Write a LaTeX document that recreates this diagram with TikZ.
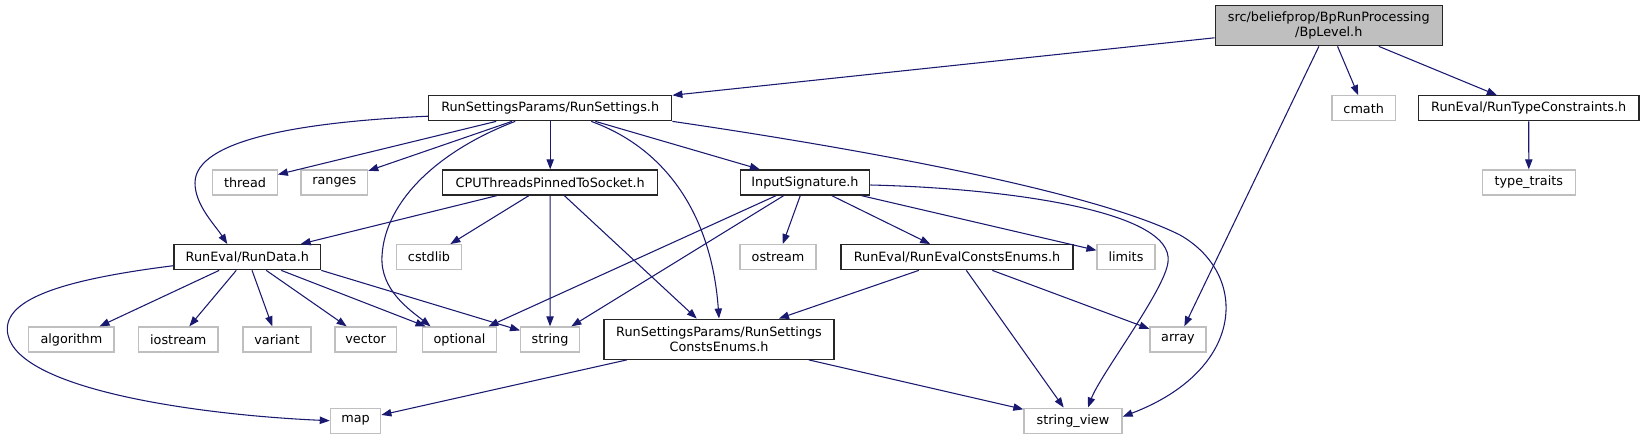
\documentclass[tikz,border=0pt]{standalone}
\usepackage{fontspec}
\setmainfont{DejaVu Sans}
\usetikzlibrary{arrows.meta,calc}
\definecolor{edgeblue}{HTML}{191970}
\definecolor{grey75}{HTML}{BFBFBF}
\tikzset{
  hdr/.style={draw=black!85, line width=1pt, fill=white, inner sep=0pt,
    minimum height=18.75pt, align=center, font=\fontsize{9.6pt}{11.3pt}\selectfont},
  sys/.style={hdr, draw=grey75},
  root/.style={hdr, fill=grey75, minimum height=30pt},
  inc/.style={draw=edgeblue, line width=0.8pt, -{Triangle[length=7.5pt,width=5.5pt]}}
}
\begin{document}
\begin{tikzpicture}[x=0.75pt, y=-0.75pt]
    \useasboundingbox (0,0) rectangle (1644,440);

    % 节点
    \node[root, minimum width=170.3pt] (lvl) at (1328.8,25.7) {src/beliefprop/BpRunProcessing\\/BpLevel.h};
    \node[hdr, minimum width=182.3pt] (rs) at (550.2,108.2) {RunSettingsParams/RunSettings.h};
    \node[sys, minimum width=47.5pt] (cmath) at (1363.7,108.3) {cmath};
    \node[hdr, minimum width=165.5pt] (rtc) at (1528.7,108.3) {RunEval/RunTypeConstraints.h};
    \node[sys, minimum width=69.8pt] (tt) at (1528.8,182.5) {type\_traits};
    \node[sys, minimum width=48.3pt] (thread) at (245,182.5) {thread};
    \node[sys, minimum width=50pt] (ranges) at (334.3,182.5) {ranges};
    \node[hdr, minimum width=161.3pt] (cpu) at (550.2,182.5) {CPUThreadsPinnedToSocket.h};
    \node[hdr, minimum width=97.2pt] (sig) at (805,182.5) {InputSignature.h};
    \node[hdr, minimum width=110pt] (rd) at (247.3,257.2) {RunEval/RunData.h};
    \node[sys, minimum width=49pt] (cstdlib) at (429,257.2) {cstdlib};
    \node[sys, minimum width=57pt] (ostream) at (778,257.2) {ostream};
    \node[hdr, minimum width=174pt] (rece) at (957,257.2) {RunEval/RunEvalConstsEnums.h};
    \node[sys, minimum width=43.3pt] (limits) at (1126,257.2) {limits};
    \node[sys, minimum width=64pt] (algorithm) at (71.4,339.5) {algorithm};
    \node[sys, minimum width=59.5pt] (iostream) at (178.3,339.5) {iostream};
    \node[sys, minimum width=51pt] (variant) at (277,339.5) {variant};
    \node[sys, minimum width=46pt] (vector) at (365.6,339.5) {vector};
    \node[sys, minimum width=55.3pt] (optional) at (459.5,339.5) {optional};
    \node[sys, minimum width=44pt] (string) at (550,339.5) {string};
    \node[hdr, minimum width=172.5pt, minimum height=30pt] (rsce) at (719,339.2) {RunSettingsParams/RunSettings\\ConstsEnums.h};
    \node[sys, minimum width=42pt] (array) at (1178,339.5) {array};
    \node[sys, minimum width=37.7pt] (map) at (355.6,420.7) {map};
    \node[sys, minimum width=73.5pt] (sv) at (1073,420.7) {string\_view};

    % BpLevel.h
    \draw[inc] (lvl) -- (rs);
    \draw[inc] (lvl) -- (cmath);
    \draw[inc] (lvl) -- (rtc);
    \draw[inc] (lvl) -- (array);
    \draw[inc] (rtc) -- (tt);

    % RunSettings.h
    \draw[inc] (rs) -- (thread);
    \draw[inc] (rs) -- (ranges);
    \draw[inc] (rs) -- (cpu);
    \draw[inc] (rs) -- (sig);
    \draw[inc] ($(rs.west)+(0,8)$) .. controls (300,122) and (195,140) .. (195,183)
        .. controls (195,205) and (215,225) .. ($(rd.north)+(-20,0)$);
    \draw[inc] ($(rs.south)+(-35,0)$) .. controls (440,150) and (385,200) .. (382,256)
        .. controls (380,290) and (410,310) .. ($(optional.north)+(-29,0)$);
    \draw[inc] ($(rs.south)+(41,0)$) .. controls (670,150) and (712,220) .. (rsce.north);
    \draw[inc] (rs.south east) .. controls (800,140) and (1080,185) .. (1180,235)
        .. controls (1250,275) and (1245,370) .. ($(sv.east)+(0,-4)$);

    % CPUThreadsPinnedToSocket.h
    \draw[inc] (cpu) -- (rd);
    \draw[inc] (cpu) -- (cstdlib);
    \draw[inc] (cpu) -- (string);
    \draw[inc] (cpu) -- (rsce);

    % InputSignature.h
    \draw[inc] (sig) -- (optional);
    \draw[inc] (sig) -- (string);
    \draw[inc] (sig) -- (ostream);
    \draw[inc] (sig) -- (rece);
    \draw[inc] (sig) -- (limits);
    \draw[inc] ($(sig.east)+(0,2.5)$) .. controls (1000,188) and (1175,210) .. (1168,262)
        .. controls (1165,290) and (1100,375) .. ($(sv.north)+(15,0)$);

    % RunData.h
    \draw[inc] (rd) -- (algorithm);
    \draw[inc] (rd) -- (iostream);
    \draw[inc] (rd) -- (variant);
    \draw[inc] (rd) -- (vector);
    \draw[inc] (rd) -- (optional);
    \draw[inc] (rd.south east) -- (string);
    \draw[inc] ($(rd.west)+(0,8.5)$) .. controls (60,280) and (0,300) .. (8,335)
        .. controls (20,390) and (200,415) .. (map.west);

    % ConstsEnums
    \draw[inc] (rece) -- (rsce);
    \draw[inc] (rece) -- (sv);
    \draw[inc] (rece) -- (array);
    \draw[inc] (rsce) -- (map);
    \draw[inc] (rsce) -- (sv);
\end{tikzpicture}
\end{document}
